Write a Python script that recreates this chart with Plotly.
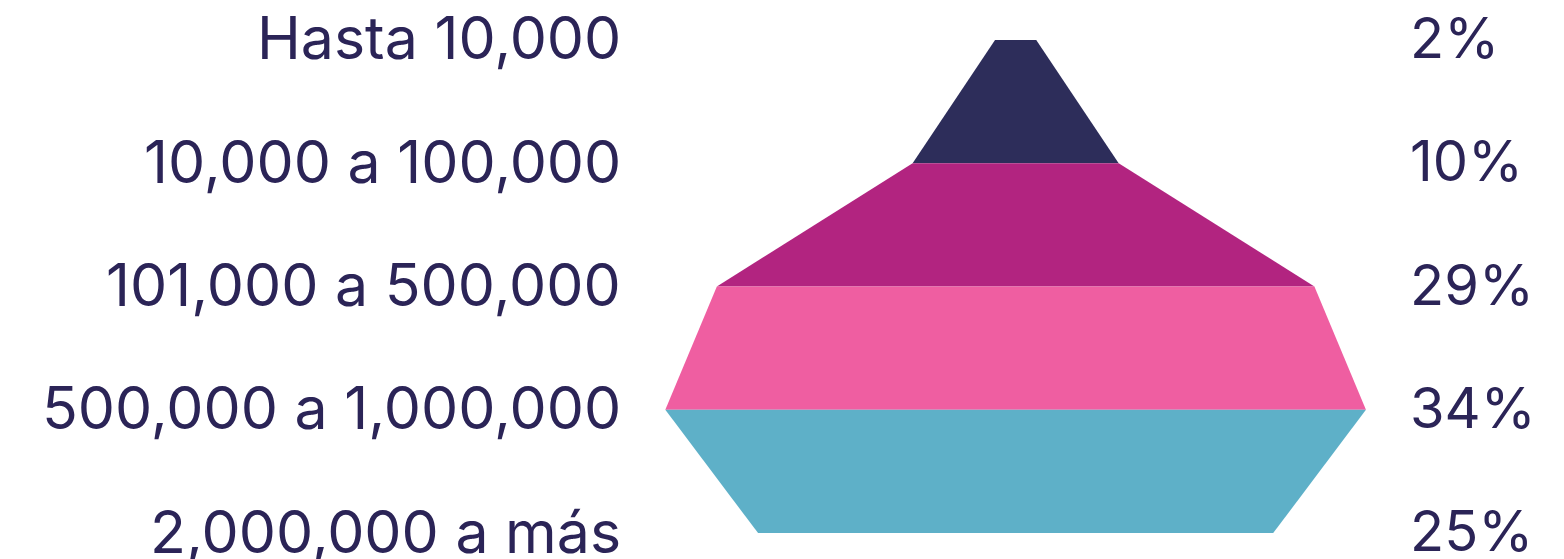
import plotly.graph_objects as go

categories = ["Hasta 10,000", "10,000 a 100,000", "101,000 a 500,000", "500,000 a 1,000,000", "2,000,000 a más"]
values = [2, 10, 29, 34, 25]
pct_labels = ["2%", "10%", "29%", "34%", "25%"]
band_colors = ["#2d2d5a", "#b22480", "#ef5ea1", "#5eb0c8"]
text_color = "#2b2457"

fig = go.Figure()
n = len(values)
for i in range(n - 1):
    a, b = values[i] / 2, values[i + 1] / 2
    fig.add_trace(go.Scatter(
        x=[-a, a, b, -b, -a],
        y=[i, i, i + 1, i + 1, i],
        mode="lines", fill="toself", fillcolor=band_colors[i],
        line=dict(width=0, color=band_colors[i]),
        hoverinfo="skip", showlegend=False,
    ))

label_x = 19.05
for i in range(n):
    fig.add_annotation(
        x=-label_x, y=i, xref="x", yref="y", text=categories[i],
        showarrow=False, xanchor="right", yanchor="middle", yshift=2,
        font=dict(size=59, color=text_color, family="Inter"),
    )
    fig.add_annotation(
        x=label_x, y=i, xref="x", yref="y", text=pct_labels[i],
        showarrow=False, xanchor="left", yanchor="middle", yshift=2,
        font=dict(size=56, color=text_color, family="Inter"),
    )

fig.update_layout(
    width=1564, height=559,
    margin=dict(l=0, r=0, t=0, b=0),
    paper_bgcolor="white", plot_bgcolor="white",
    xaxis=dict(range=[-48.9, 27.0], visible=False, fixedrange=True),
    yaxis=dict(range=[4.275, -0.259], visible=False, fixedrange=True),
)
fig.write_html("out.html")
